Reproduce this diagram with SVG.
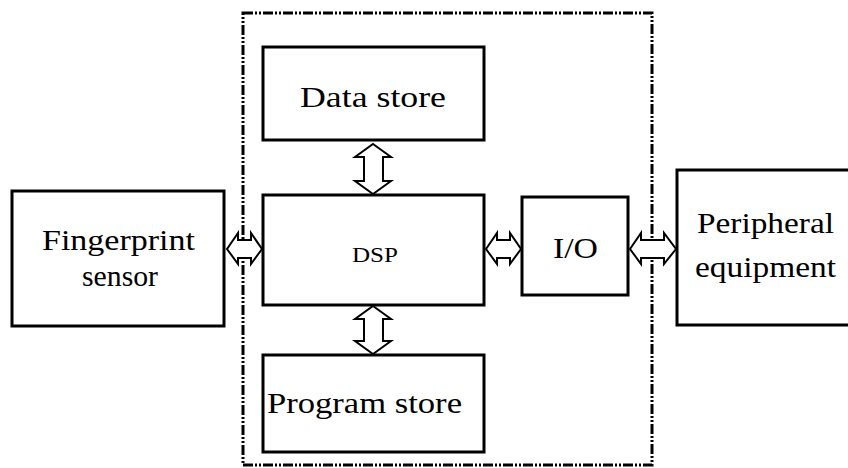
<svg xmlns="http://www.w3.org/2000/svg" width="848" height="468" viewBox="0 0 848 468">
<style>
.box{fill:#fff;stroke:#000;stroke-width:3}
.dash{fill:none;stroke:#000;stroke-width:3;stroke-dasharray:10 2 2 2 2 2}
.t{font-family:"Liberation Serif","Times New Roman",serif;font-size:30px;fill:#000}
.s{font-family:"Liberation Serif","Times New Roman",serif;font-size:21px;fill:#000}
.arr{fill:#fff;stroke:#000;stroke-width:2;stroke-linejoin:miter}
</style>
<g id="boundary"><rect class="dash" x="243" y="13" width="409" height="452"/></g>
<g id="fingerprint"><rect class="box" x="12" y="191" width="212" height="135"/>
<text class="t" x="42" y="250" textLength="153" lengthAdjust="spacingAndGlyphs">Fingerprint</text>
<text class="t" x="82" y="286" textLength="76" lengthAdjust="spacingAndGlyphs">sensor</text></g>
<g id="datastore"><rect class="box" x="263" y="47" width="221" height="93"/>
<text class="t" x="300" y="107" textLength="146" lengthAdjust="spacingAndGlyphs">Data store</text></g>
<g id="dsp"><rect class="box" x="263" y="195" width="221" height="110"/>
<text class="s" x="352" y="262" textLength="46" lengthAdjust="spacingAndGlyphs">DSP</text></g>
<g id="programstore"><rect class="box" x="263" y="355" width="221" height="97"/>
<text class="t" x="267" y="413" textLength="195" lengthAdjust="spacingAndGlyphs">Program store</text></g>
<g id="io"><rect class="box" x="522" y="197" width="106" height="98"/>
<text class="t" x="553" y="258" textLength="45" lengthAdjust="spacingAndGlyphs">I/O</text></g>
<g id="peripheral"><rect class="box" x="677" y="170" width="180" height="155"/>
<text class="t" x="697" y="233" textLength="137" lengthAdjust="spacingAndGlyphs">Peripheral</text>
<text class="t" x="695" y="277" textLength="141" lengthAdjust="spacingAndGlyphs">equipment</text></g>
<g id="connectors">
<path class="arr" d="M373,144 L391,157 L383,157 L383,181 L391,181 L373,194 L355,181 L364,181 L364,157 L355,157 Z"/>
<path class="arr" d="M373,306 L391,319 L383,319 L383,341 L391,341 L373,354 L355,341 L364,341 L364,319 L355,319 Z"/>
<path class="arr" d="M227,249 L238,233 L238,240 L251,240 L251,233 L262,249 L251,264 L251,258 L238,258 L238,264 Z"/>
<path class="arr" d="M486,249 L497,233 L497,240 L510,240 L510,233 L521,249 L510,264 L510,258 L497,258 L497,264 Z"/>
<path class="arr" d="M630,249 L641,233 L641,240 L664,240 L664,233 L676,249 L664,264 L664,258 L641,258 L641,264 Z"/>
</g>
</svg>
